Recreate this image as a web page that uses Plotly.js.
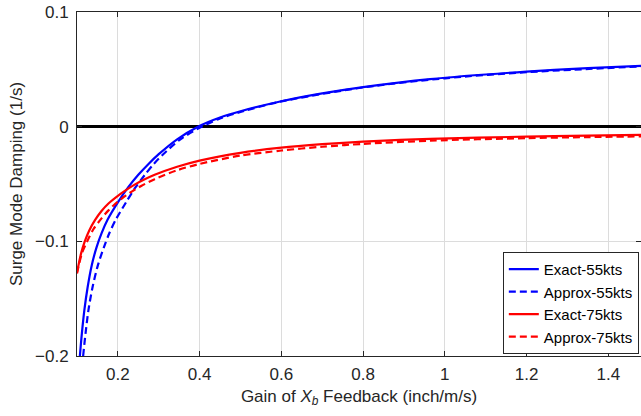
<!DOCTYPE html>
<html>
<head>
<meta charset="utf-8">
<script src="https://cdn.plot.ly/plotly-3.0.1.min.js"></script>
<style>html,body{margin:0;padding:0;background:#fff;}#chart{width:641px;height:416px;}</style>
</head>
<body>
<div id="chart"></div>
<script>
// Exact, 55 kts
const exact55X = [0.107,0.112,0.118,0.126,0.136,0.148,0.16,0.175,0.2,0.225,0.25,0.275,0.3,0.345,0.396,0.45,0.5,0.6,0.7,0.8,0.964,1.2,1.35,1.48];
const exact55Y = [-0.2,-0.18,-0.16,-0.14,-0.121,-0.105,-0.093,-0.081,-0.066,-0.053,-0.042,-0.0325,-0.024,-0.011,0,0.008,0.0135,0.0222,0.029,0.0345,0.0415,0.048,0.051,0.053];
// Approx, 55 kts
const approx55X = [0.115,0.121,0.128,0.138,0.151,0.166,0.179,0.195,0.22,0.243,0.266,0.288,0.311,0.353,0.40,0.45,0.5,0.6,0.8,1.0,1.2,1.48];
const approx55Y = [-0.2,-0.18,-0.16,-0.14,-0.121,-0.105,-0.093,-0.081,-0.066,-0.053,-0.042,-0.0325,-0.024,-0.011,-0.001,0.0072,0.0128,0.022,0.0342,0.0422,0.0475,0.0525];
// Exact, 75 kts
const exact75X = [0.1,0.105,0.11,0.119,0.13,0.144,0.16,0.177,0.2,0.217,0.24,0.262,0.29,0.345,0.4,0.5,0.6,0.7,0.8,0.964,1.2,1.35,1.48];
const exact75Y = [-0.127,-0.1185,-0.1105,-0.1,-0.0905,-0.0815,-0.0735,-0.067,-0.0603,-0.056,-0.0508,-0.0466,-0.042,-0.035,-0.0296,-0.0228,-0.0183,-0.0153,-0.013,-0.0106,-0.0087,-0.0078,-0.0071];
// Approx, 75 kts
const approx75X = [0.1,0.106,0.113,0.125,0.14,0.16,0.177,0.193,0.22,0.24,0.258,0.29,0.345,0.4,0.5,0.6,0.7,0.8,0.964,1.2,1.35,1.48];
const approx75Y = [-0.128,-0.1185,-0.1095,-0.1,-0.0895,-0.08,-0.073,-0.0675,-0.06,-0.0552,-0.0515,-0.0458,-0.038,-0.0325,-0.0252,-0.0208,-0.0175,-0.015,-0.0122,-0.01,-0.0091,-0.0085];

const seriesNames = ['Exact-55kts','Approx-55kts','Exact-75kts','Approx-75kts'];
const xTicks = [0.2,0.4,0.6,0.8,1.0,1.2,1.4];
const xTickText = ['0.2','0.4','0.6','0.8','1','1.2','1.4'];
const yTicks = [-0.2,-0.1,0,0.1];
const yTickText = ['\u22120.2','\u22120.1','0','0.1'];

const BLUE = '#0000ff', RED = '#ff0000';
const lineStyle = (c, d) => ({color: c, width: 2.2, dash: d, shape: 'spline', smoothing: 0.8});
const traces = [
  {x: exact55X, y: exact55Y, name: seriesNames[0], mode: 'lines', line: lineStyle(BLUE, 'solid')},
  {x: approx55X, y: approx55Y, name: seriesNames[1], mode: 'lines', line: lineStyle(BLUE, '7px,4px')},
  {x: exact75X, y: exact75Y, name: seriesNames[2], mode: 'lines', line: lineStyle(RED, 'solid')},
  {x: approx75X, y: approx75Y, name: seriesNames[3], mode: 'lines', line: lineStyle(RED, '7px,4px')}
];

const axisCol = '#262626';
const FF = 'Liberation Sans, Arial, sans-serif';
const layout = {
  width: 641, height: 416,
  margin: {l: 77, r: 0, t: 12, b: 60, pad: 0, autoexpand: false},
  paper_bgcolor: '#ffffff', plot_bgcolor: '#ffffff',
  font: {family: FF, size: 17, color: axisCol},
  showlegend: true,
  legend: {
    x: 0.755, y: 0.006, xanchor: 'left', yanchor: 'bottom',
    bgcolor: '#ffffff', bordercolor: axisCol, borderwidth: 1,
    font: {family: FF, size: 15, color: '#000000'}, tracegroupgap: 0
  },
  xaxis: {
    range: [0.1, 1.48], tickvals: xTicks, ticktext: xTickText,
    tickfont: {family: FF, size: 17, color: axisCol},
    showgrid: true, gridcolor: '#dcdcdc', gridwidth: 1,
    zeroline: false, showline: true, linecolor: axisCol, linewidth: 1, mirror: 'ticks',
    ticks: 'inside', ticklen: 5, tickcolor: axisCol, ticklabelstandoff: 3, automargin: false,
    title: {text: 'Gain of <i>X</i><sub><i>b</i></sub> Feedback (inch/m/s)', font: {family: FF, size: 17, color: axisCol}, standoff: 6}
  },
  yaxis: {
    range: [-0.2, 0.1], tickvals: yTicks, ticktext: yTickText,
    tickfont: {family: FF, size: 17, color: axisCol},
    showgrid: true, gridcolor: '#dcdcdc', gridwidth: 1,
    zeroline: true, zerolinecolor: '#000000', zerolinewidth: 3,
    showline: true, linecolor: axisCol, linewidth: 1, mirror: 'ticks',
    ticks: 'inside', ticklen: 5, tickcolor: axisCol, ticklabelstandoff: 4, automargin: false,
    title: {text: 'Surge Mode Damping (1/s)', font: {family: FF, size: 17, color: axisCol}, standoff: 8}
  }
};

Plotly.newPlot('chart', traces, layout, {displayModeBar: false, staticPlot: true});
</script>
</body>
</html>
